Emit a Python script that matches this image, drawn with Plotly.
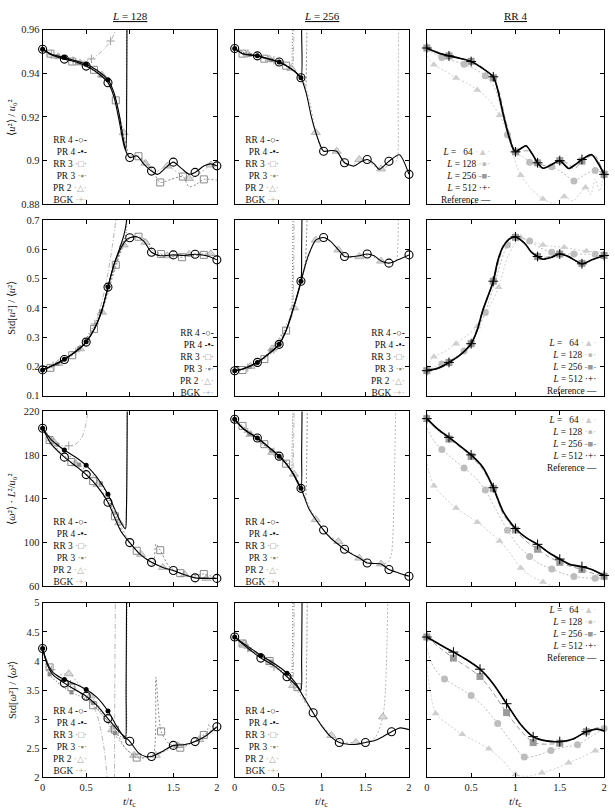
import plotly.graph_objects as go

# ======================= DATA =======================
# Row 1: <u^2>/u0^2 ; column L=128
U2_128_RR4_T = [0, 0.1, 0.25, 0.4, 0.5, 0.62, 0.75, 0.82, 0.88, 0.94, 1.0, 1.08, 1.17, 1.25, 1.32, 1.42, 1.5, 1.6, 1.68, 1.75, 1.85, 1.93, 2.0]
U2_128_RR4_V = [0.951, 0.9485, 0.9465, 0.945, 0.9433, 0.9405, 0.9357, 0.929, 0.918, 0.906, 0.9014, 0.9022, 0.898, 0.8952, 0.8937, 0.897, 0.8993, 0.8962, 0.8938, 0.8946, 0.8975, 0.8985, 0.8976]
U2_128_RR4_M = [0, 0.25, 0.5, 0.75, 1.0, 1.25, 1.5, 1.75, 2.0]
U2_128_PR4_T = [0, 0.1, 0.25, 0.4, 0.5, 0.62, 0.75, 0.82, 0.88, 0.93, 0.955, 0.965, 0.972]
U2_128_PR4_V = [0.951, 0.9487, 0.9472, 0.9455, 0.9442, 0.9415, 0.937, 0.931, 0.921, 0.909, 0.905, 0.93, 1.0]
U2_128_PR4_M = [0, 0.25, 0.5, 0.75]
U2_128_RR3_T = [0, 0.09, 0.2, 0.34, 0.47, 0.59, 0.7, 0.77, 0.84, 0.92, 1.0, 1.1, 1.2, 1.28, 1.35, 1.48, 1.61, 1.68, 1.76, 1.85, 2.0]
U2_128_RR3_V = [0.951, 0.949, 0.9475, 0.9454, 0.9437, 0.9416, 0.9383, 0.9345, 0.9276, 0.9135, 0.9018, 0.902, 0.8985, 0.894, 0.890, 0.8915, 0.8927, 0.888, 0.889, 0.8914, 0.891]
U2_128_RR3_M = [0.09, 0.34, 0.59, 0.84, 1.1, 1.35, 1.61, 1.85]
U2_128_PR3_T = [0, 0.17, 0.42, 0.67, 0.75, 0.84, 0.92, 0.955, 0.962, 0.968]
U2_128_PR3_V = [0.951, 0.9478, 0.9448, 0.939, 0.9362, 0.927, 0.912, 0.906, 0.93, 1.0]
U2_128_PR3_M = [0.17, 0.42, 0.67]
U2_128_PR2_T = [0, 0.18, 0.43, 0.68, 0.78, 0.86, 0.93, 1.0, 1.08, 1.18, 1.3, 1.43, 1.55, 1.68, 1.8, 1.93, 2.0]
U2_128_PR2_V = [0.951, 0.9476, 0.9447, 0.9392, 0.934, 0.924, 0.9128, 0.9025, 0.902, 0.8988, 0.895, 0.8975, 0.8945, 0.8918, 0.894, 0.898, 0.8975]
U2_128_PR2_M = [0.18, 0.43, 0.68, 0.93, 1.18, 1.43, 1.68, 1.93]
U2_128_BGK_T = [0, 0.1, 0.22, 0.35, 0.47, 0.56, 0.64, 0.72, 0.78, 0.82, 0.84, 0.86]
U2_128_BGK_V = [0.951, 0.9485, 0.9468, 0.9458, 0.9456, 0.9466, 0.9487, 0.9518, 0.9548, 0.958, 0.962, 0.97]
U2_128_BGK_M = [0.1, 0.35, 0.56, 0.78]

# Row 1 ; column L=256
U2_256_RR4_T = [0, 0.09, 0.26, 0.4, 0.51, 0.62, 0.7, 0.76, 0.82, 0.88, 0.93, 1.02, 1.1, 1.17, 1.26, 1.37, 1.45, 1.52, 1.6, 1.66, 1.77, 1.89, 2.0]
U2_256_RR4_V = [0.9514, 0.949, 0.948, 0.9465, 0.9452, 0.9428, 0.9405, 0.938, 0.931, 0.92, 0.9129, 0.9043, 0.9046, 0.9043, 0.899, 0.8975, 0.8995, 0.9005, 0.8985, 0.896, 0.8997, 0.9027, 0.8937]
U2_256_RR4_M = [0, 0.26, 0.51, 0.76, 1.02, 1.26, 1.52, 1.77, 2.0]
U2_256_PR4_T = [0, 0.09, 0.26, 0.4, 0.51, 0.62, 0.7, 0.76, 0.768, 0.775]
U2_256_PR4_V = [0.9514, 0.949, 0.948, 0.9465, 0.9452, 0.9428, 0.9405, 0.938, 0.96, 1.0]
U2_256_PR4_M = [0, 0.26, 0.51, 0.76]
U2_256_RR3_T = [0, 0.09, 0.2, 0.34, 0.47, 0.59, 0.7, 0.77, 0.81, 0.825, 0.835]
U2_256_RR3_V = [0.9514, 0.949, 0.9482, 0.9467, 0.9455, 0.9435, 0.9405, 0.937, 0.933, 0.95, 1.0]
U2_256_RR3_M = [0.09, 0.34, 0.59]
U2_256_PR3_T = [0, 0.17, 0.42, 0.6, 0.65, 0.66, 0.67]
U2_256_PR3_V = [0.9514, 0.9485, 0.946, 0.9432, 0.942, 0.95, 1.0]
U2_256_PR3_M = [0.17, 0.42]
U2_256_PR2_T = [0, 0.15, 0.4, 0.65, 0.78, 0.86, 0.93, 1.0, 1.08, 1.17, 1.26, 1.35, 1.43, 1.52, 1.6, 1.68, 1.76, 1.82, 1.86, 1.875, 1.885]
U2_256_PR2_V = [0.9514, 0.9488, 0.9465, 0.9422, 0.937, 0.927, 0.9129, 0.905, 0.9045, 0.9043, 0.8995, 0.8978, 0.9005, 0.9, 0.8975, 0.8962, 0.8975, 0.899, 0.90, 0.93, 1.0]
U2_256_PR2_M = [0.15, 0.4, 0.65, 0.93, 1.17, 1.43, 1.68]
U2_256_BGK_T = [0, 0.15, 0.3, 0.45, 0.6, 0.66, 0.675, 0.685]
U2_256_BGK_V = [0.9514, 0.949, 0.9475, 0.946, 0.9438, 0.9418, 0.95, 1.0]
U2_256_BGK_M = [0.15, 0.45]

# Row 1 ; column RR 4
U2_RR4_REF_T = [0, 0.12, 0.25, 0.38, 0.5, 0.62, 0.75, 0.8, 0.86, 0.92, 0.97, 1.0, 1.06, 1.12, 1.19, 1.25, 1.31, 1.4, 1.5, 1.6, 1.67, 1.75, 1.86, 1.93, 2.0]
U2_RR4_REF_V = [0.9516, 0.9495, 0.948, 0.9468, 0.9454, 0.9425, 0.9384, 0.9325, 0.9216, 0.912, 0.9058, 0.904, 0.9055, 0.9068, 0.903, 0.899, 0.8965, 0.898, 0.9, 0.8964, 0.898, 0.9005, 0.9027, 0.899, 0.8937]
U2_RR4_L512_T = [0, 0.12, 0.25, 0.38, 0.5, 0.62, 0.75, 0.8, 0.86, 0.92, 0.97, 1.0, 1.06, 1.12, 1.19, 1.25, 1.31, 1.4, 1.5, 1.6, 1.67, 1.75, 1.86, 1.93, 2.0]
U2_RR4_L512_V = [0.9516, 0.9495, 0.948, 0.9468, 0.9454, 0.9425, 0.9384, 0.9325, 0.9216, 0.912, 0.9058, 0.904, 0.9055, 0.9068, 0.903, 0.899, 0.8965, 0.898, 0.9, 0.8964, 0.898, 0.9005, 0.9027, 0.899, 0.8937]
U2_RR4_L512_M = [0, 0.25, 0.5, 0.75, 1.0, 1.25, 1.5, 1.75, 2.0]
U2_RR4_L256_T = [0, 0.25, 0.5, 0.62, 0.75, 0.82, 0.88, 0.94, 1.0, 1.1, 1.17, 1.25, 1.37, 1.5, 1.6, 1.66, 1.75, 1.89, 2.0]
U2_RR4_L256_V = [0.9516, 0.948, 0.9455, 0.943, 0.938, 0.931, 0.92, 0.911, 0.904, 0.9045, 0.9042, 0.899, 0.8975, 0.9, 0.8985, 0.896, 0.8998, 0.9025, 0.8937]
U2_RR4_L256_M = [0, 0.25, 0.5, 0.75, 1.0, 1.25, 1.5, 1.75, 2.0]
U2_RR4_L128_T = [0, 0.17, 0.42, 0.66, 0.78, 0.91, 1.0, 1.08, 1.16, 1.3, 1.41, 1.55, 1.66, 1.78, 1.9, 2.0]
U2_RR4_L128_V = [0.951, 0.9472, 0.9442, 0.9389, 0.932, 0.9118, 0.9035, 0.902, 0.8993, 0.8965, 0.8972, 0.894, 0.8907, 0.8935, 0.8955, 0.894]
U2_RR4_L128_M = [0.17, 0.42, 0.66, 0.91, 1.16, 1.41, 1.66, 1.9]
U2_RR4_L64_T = [0, 0.08, 0.2, 0.33, 0.45, 0.57, 0.7, 0.82, 0.9, 0.98, 1.06, 1.18, 1.31, 1.43, 1.55, 1.65, 1.72, 1.79, 1.85, 1.9, 1.95, 2.0]
U2_RR4_L64_V = [0.948, 0.9439, 0.9412, 0.9379, 0.9355, 0.9324, 0.928, 0.9208, 0.914, 0.902, 0.8933, 0.887, 0.8824, 0.8805, 0.8835, 0.8815, 0.8845, 0.8877, 0.8845, 0.8915, 0.886, 0.894]
U2_RR4_L64_M = [0.08, 0.33, 0.57, 0.82, 1.06, 1.31, 1.55, 1.79]

# Row 2: Std[u^2]/<u^2> ; column L=128
SU_128_RR4_T = [0, 0.1, 0.25, 0.4, 0.5, 0.6, 0.68, 0.75, 0.82, 0.9, 0.96, 1.0, 1.08, 1.16, 1.25, 1.35, 1.5, 1.62, 1.75, 1.88, 2.0]
SU_128_RR4_V = [0.188, 0.2, 0.2237, 0.255, 0.283, 0.33, 0.39, 0.4708, 0.548, 0.605, 0.632, 0.6393, 0.643, 0.628, 0.59, 0.578, 0.581, 0.579, 0.583, 0.578, 0.564]
SU_128_RR4_M = [0, 0.25, 0.5, 0.75, 1.0, 1.25, 1.5, 1.75, 2.0]
SU_128_PR4_T = [0, 0.1, 0.25, 0.4, 0.5, 0.6, 0.68, 0.75, 0.82, 0.88, 0.93, 0.96, 0.975]
SU_128_PR4_V = [0.188, 0.201, 0.2245, 0.256, 0.284, 0.332, 0.392, 0.472, 0.55, 0.6, 0.645, 0.69, 0.8]
SU_128_PR4_M = [0, 0.25, 0.5, 0.75]
SU_128_RR3_T = [0, 0.09, 0.2, 0.34, 0.47, 0.59, 0.7, 0.84, 0.95, 1.02, 1.1, 1.2, 1.28, 1.36, 1.48, 1.6, 1.72, 1.85, 2.0]
SU_128_RR3_V = [0.188, 0.195, 0.21, 0.238, 0.272, 0.328, 0.41, 0.547, 0.625, 0.64, 0.643, 0.628, 0.595, 0.584, 0.576, 0.573, 0.578, 0.581, 0.578]
SU_128_RR3_M = [0.09, 0.34, 0.59, 0.84, 1.1, 1.36, 1.6, 1.85]
SU_128_PR3_T = [0, 0.17, 0.42, 0.67, 0.78, 0.86, 0.93, 0.96, 0.975]
SU_128_PR3_V = [0.188, 0.208, 0.262, 0.388, 0.495, 0.57, 0.625, 0.66, 0.8]
SU_128_PR3_M = [0.17, 0.42, 0.67]
SU_128_PR2_T = [0, 0.18, 0.43, 0.68, 0.8, 0.93, 1.0, 1.08, 1.18, 1.3, 1.43, 1.55, 1.68, 1.8, 1.93, 2.0]
SU_128_PR2_V = [0.188, 0.21, 0.26, 0.385, 0.5, 0.615, 0.638, 0.64, 0.624, 0.585, 0.578, 0.579, 0.583, 0.584, 0.585, 0.578]
SU_128_PR2_M = [0.18, 0.43, 0.68, 0.93, 1.18, 1.43, 1.68, 1.93]
SU_128_BGK_T = [0, 0.12, 0.25, 0.38, 0.5, 0.6, 0.68, 0.75, 0.8, 0.84, 0.86]
SU_128_BGK_V = [0.188, 0.203, 0.225, 0.25, 0.29, 0.345, 0.42, 0.52, 0.61, 0.7, 0.8]
SU_128_BGK_M = [0.12, 0.38, 0.6]

# Row 2 ; column L=256
SU_256_RR4_T = [0, 0.1, 0.26, 0.4, 0.51, 0.59, 0.67, 0.76, 0.84, 0.93, 1.02, 1.1, 1.19, 1.26, 1.32, 1.43, 1.52, 1.6, 1.68, 1.77, 1.88, 2.0]
SU_256_RR4_V = [0.1853, 0.192, 0.2135, 0.245, 0.2753, 0.3225, 0.3957, 0.491, 0.575, 0.6315, 0.6404, 0.627, 0.598, 0.5753, 0.574, 0.578, 0.584, 0.578, 0.5597, 0.5527, 0.565, 0.581]
SU_256_RR4_M = [0, 0.26, 0.51, 0.76, 1.02, 1.26, 1.52, 1.77, 2.0]
SU_256_PR4_T = [0, 0.1, 0.26, 0.4, 0.51, 0.59, 0.67, 0.76, 0.768, 0.775]
SU_256_PR4_V = [0.1853, 0.192, 0.2135, 0.245, 0.2753, 0.3225, 0.3957, 0.491, 0.6, 0.8]
SU_256_PR4_M = [0, 0.26, 0.51, 0.76]
SU_256_RR3_T = [0, 0.09, 0.2, 0.34, 0.47, 0.59, 0.7, 0.77, 0.81, 0.825, 0.835]
SU_256_RR3_V = [0.1853, 0.1876, 0.2, 0.225, 0.26, 0.3225, 0.42, 0.5, 0.555, 0.65, 0.8]
SU_256_RR3_M = [0.09, 0.34, 0.59]
SU_256_PR3_T = [0, 0.17, 0.42, 0.6, 0.65, 0.66, 0.67]
SU_256_PR3_V = [0.1853, 0.198, 0.255, 0.335, 0.37, 0.45, 0.8]
SU_256_PR3_M = [0.17, 0.42]
SU_256_PR2_T = [0, 0.18, 0.43, 0.68, 0.8, 0.93, 1.02, 1.1, 1.19, 1.3, 1.43, 1.55, 1.68, 1.78, 1.85, 1.87, 1.88]
SU_256_PR2_V = [0.1853, 0.2, 0.26, 0.4, 0.53, 0.6315, 0.64, 0.627, 0.598, 0.575, 0.575, 0.58, 0.5597, 0.555, 0.56, 0.6, 0.8]
SU_256_PR2_M = [0.18, 0.43, 0.68, 0.93, 1.19, 1.43, 1.68]
SU_256_BGK_T = [0, 0.15, 0.3, 0.45, 0.6, 0.66, 0.675, 0.685]
SU_256_BGK_V = [0.1853, 0.196, 0.22, 0.258, 0.33, 0.375, 0.5, 0.8]
SU_256_BGK_M = [0.15, 0.45]

# Row 2 ; column RR 4
SU_RR4_REF_T = [0, 0.12, 0.25, 0.38, 0.5, 0.57, 0.63, 0.69, 0.75, 0.8, 0.86, 0.93, 1.0, 1.06, 1.12, 1.18, 1.25, 1.31, 1.4, 1.5, 1.6, 1.75, 1.87, 2.0]
SU_RR4_REF_V = [0.1853, 0.193, 0.2135, 0.24, 0.2775, 0.325, 0.39, 0.44, 0.491, 0.56, 0.609, 0.635, 0.6427, 0.632, 0.6146, 0.59, 0.5753, 0.566, 0.572, 0.584, 0.575, 0.5506, 0.565, 0.5787]
SU_RR4_L512_T = [0, 0.12, 0.25, 0.38, 0.5, 0.57, 0.63, 0.69, 0.75, 0.8, 0.86, 0.93, 1.0, 1.06, 1.12, 1.18, 1.25, 1.31, 1.4, 1.5, 1.6, 1.75, 1.87, 2.0]
SU_RR4_L512_V = [0.1853, 0.193, 0.2135, 0.24, 0.2775, 0.325, 0.39, 0.44, 0.491, 0.56, 0.609, 0.635, 0.6427, 0.632, 0.6146, 0.59, 0.5753, 0.566, 0.572, 0.584, 0.575, 0.5506, 0.565, 0.5787]
SU_RR4_L512_M = [0, 0.25, 0.5, 0.75, 1.0, 1.25, 1.5, 1.75, 2.0]
SU_RR4_L256_T = [0, 0.12, 0.25, 0.38, 0.5, 0.63, 0.75, 0.86, 0.93, 1.0, 1.12, 1.25, 1.31, 1.4, 1.5, 1.6, 1.75, 1.87, 2.0]
SU_RR4_L256_V = [0.1853, 0.193, 0.2135, 0.24, 0.2775, 0.39, 0.491, 0.605, 0.633, 0.641, 0.613, 0.5753, 0.572, 0.576, 0.584, 0.575, 0.552, 0.565, 0.579]
SU_RR4_L256_M = [0, 0.25, 0.5, 0.75, 1.0, 1.25, 1.5, 1.75, 2.0]
SU_RR4_L128_T = [0, 0.17, 0.3, 0.42, 0.55, 0.66, 0.78, 0.91, 1.03, 1.16, 1.28, 1.41, 1.53, 1.66, 1.78, 1.9, 2.0]
SU_RR4_L128_V = [0.188, 0.208, 0.228, 0.2528, 0.31, 0.384, 0.5, 0.6146, 0.64, 0.628, 0.605, 0.59, 0.584, 0.584, 0.583, 0.583, 0.575]
SU_RR4_L128_M = [0.17, 0.42, 0.66, 0.91, 1.16, 1.41, 1.66, 1.9]
SU_RR4_L64_T = [0, 0.08, 0.2, 0.33, 0.45, 0.57, 0.7, 0.81, 0.92, 1.06, 1.18, 1.31, 1.43, 1.55, 1.67, 1.8, 1.9, 2.0]
SU_RR4_L64_V = [0.2, 0.2325, 0.25, 0.2775, 0.305, 0.336, 0.4, 0.47, 0.58, 0.64, 0.627, 0.6146, 0.61, 0.6067, 0.6, 0.5944, 0.592, 0.59]
SU_RR4_L64_M = [0.08, 0.33, 0.57, 0.81, 1.06, 1.31, 1.55, 1.8]

# Row 3: <w^2> L^2/u0^2 ; column L=128
W2_128_RR4_T = [0, 0.1, 0.25, 0.38, 0.5, 0.62, 0.75, 0.83, 0.9, 1.0, 1.12, 1.25, 1.38, 1.5, 1.62, 1.75, 1.88, 2.0]
W2_128_RR4_V = [204.6, 190, 178.1, 170, 162.1, 152, 136.8, 122, 110, 99.8, 89, 81.7, 77, 74.2, 70.5, 67.5, 67, 67]
W2_128_RR4_M = [0, 0.25, 0.5, 0.75, 1.0, 1.25, 1.5, 1.75, 2.0]
W2_128_PR4_T = [0, 0.1, 0.25, 0.38, 0.5, 0.62, 0.75, 0.83, 0.9, 0.95, 0.962, 0.972]
W2_128_PR4_V = [204.6, 194, 184.7, 178, 170.6, 160, 144.1, 130, 118, 112.4, 130, 240]
W2_128_PR4_M = [0, 0.25, 0.5, 0.75]
W2_128_RR3_T = [0, 0.08, 0.2, 0.33, 0.45, 0.58, 0.7, 0.83, 0.95, 1.08, 1.2, 1.27, 1.3, 1.35, 1.45, 1.58, 1.72, 1.85, 2.0]
W2_128_RR3_V = [204.6, 193.8, 183, 173.6, 165, 156.1, 143, 123.9, 104, 92.3, 84, 80, 98.5, 92.8, 78, 71.8, 69, 71, 67]
W2_128_RR3_M = [0.08, 0.33, 0.58, 0.83, 1.08, 1.35, 1.58, 1.85]
W2_128_PR3_T = [0, 0.17, 0.42, 0.67, 0.8, 0.9, 0.95, 0.962, 0.972]
W2_128_PR3_V = [204.6, 189.5, 171.2, 154, 132, 117, 113, 130, 240]
W2_128_PR3_M = [0.17, 0.42, 0.67]
W2_128_PR2_T = [0, 0.13, 0.38, 0.63, 0.75, 0.88, 1.0, 1.13, 1.25, 1.38, 1.5, 1.63, 1.75, 1.88, 2.0]
W2_128_PR2_V = [204.6, 192, 172, 153, 138, 118, 100, 89, 82, 77, 74, 70.5, 68, 67, 66.5]
W2_128_PR2_M = [0.13, 0.38, 0.63, 0.88, 1.13, 1.38, 1.63, 1.88]
W2_128_BGK_T = [0, 0.1, 0.2, 0.3, 0.38, 0.45, 0.49, 0.52, 0.54]
W2_128_BGK_V = [204.6, 193, 189, 188.5, 190, 196, 206, 220, 240]
W2_128_BGK_M = [0.1, 0.3]

# Row 3 ; column L=256
W2_256_RR4_T = [0, 0.1, 0.26, 0.38, 0.51, 0.59, 0.67, 0.76, 0.85, 0.93, 1.02, 1.1, 1.19, 1.26, 1.35, 1.43, 1.52, 1.6, 1.68, 1.77, 1.88, 2.0]
W2_256_RR4_V = [212.8, 204, 195.6, 188, 179, 172.1, 163, 149.5, 131, 120.9, 111.3, 104, 98, 93.7, 89, 85.6, 81.1, 80.7, 80.2, 75.1, 72, 69]
W2_256_RR4_M = [0, 0.26, 0.51, 0.76, 1.02, 1.26, 1.52, 1.77, 2.0]
W2_256_PR4_T = [0, 0.1, 0.26, 0.38, 0.51, 0.59, 0.67, 0.76, 0.768, 0.775]
W2_256_PR4_V = [212.8, 204, 195.6, 188, 179, 172.1, 163, 149.5, 180, 240]
W2_256_PR4_M = [0, 0.26, 0.51, 0.76]
W2_256_RR3_T = [0, 0.09, 0.2, 0.34, 0.47, 0.59, 0.7, 0.77, 0.81, 0.825, 0.835]
W2_256_RR3_V = [212.8, 206.7, 199, 190, 181, 172.1, 160, 148, 140, 170, 240]
W2_256_RR3_M = [0.09, 0.34, 0.59]
W2_256_PR3_T = [0, 0.17, 0.42, 0.6, 0.65, 0.66, 0.67]
W2_256_PR3_V = [212.8, 199.5, 184, 173.5, 166.5, 190, 240]
W2_256_PR3_M = [0.17, 0.42]
W2_256_PR2_T = [0, 0.18, 0.43, 0.68, 0.8, 0.93, 1.05, 1.19, 1.3, 1.43, 1.55, 1.68, 1.76, 1.8, 1.83, 1.85]
W2_256_PR2_V = [212.8, 199, 182.5, 162.5, 143, 120.9, 108, 100.7, 93, 85.6, 81.5, 80.2, 82, 90, 150, 240]
W2_256_PR2_M = [0.18, 0.43, 0.68, 0.93, 1.19, 1.43, 1.68]
W2_256_BGK_T = [0, 0.15, 0.3, 0.45, 0.6, 0.66, 0.675, 0.685]
W2_256_BGK_V = [212.8, 201, 192, 183, 171.5, 166, 190, 240]
W2_256_BGK_M = [0.15, 0.45]

# Row 3 ; column RR 4
W2_RR4_REF_T = [0, 0.12, 0.25, 0.38, 0.5, 0.63, 0.75, 0.86, 1.0, 1.12, 1.25, 1.37, 1.5, 1.62, 1.75, 1.86, 2.0]
W2_RR4_REF_V = [213.4, 204, 196.2, 188, 180.2, 169.1, 150.1, 128.4, 112.7, 104.3, 98.2, 91, 84.7, 79.6, 77.8, 75.1, 69.7]
W2_RR4_L512_T = [0, 0.12, 0.25, 0.38, 0.5, 0.63, 0.75, 0.86, 1.0, 1.12, 1.25, 1.37, 1.5, 1.62, 1.75, 1.86, 2.0]
W2_RR4_L512_V = [213.4, 204, 196.2, 188, 180.2, 169.1, 150.1, 128.4, 112.7, 104.3, 98.2, 91, 84.7, 79.6, 77.8, 75.1, 69.7]
W2_RR4_L512_M = [0, 0.25, 0.5, 0.75, 1.0, 1.25, 1.5, 1.75, 2.0]
W2_RR4_L256_T = [0, 0.12, 0.25, 0.38, 0.5, 0.63, 0.75, 0.86, 1.0, 1.12, 1.25, 1.37, 1.5, 1.62, 1.75, 1.86, 2.0]
W2_RR4_L256_V = [213.4, 203, 194.7, 187, 178.8, 167, 149.5, 126, 111.3, 101, 93.7, 87, 81.7, 78, 75.1, 72, 69.0]
W2_RR4_L256_M = [0, 0.25, 0.5, 0.75, 1.0, 1.25, 1.5, 1.75, 2.0]
W2_RR4_L128_T = [0, 0.08, 0.17, 0.3, 0.42, 0.55, 0.66, 0.78, 0.91, 1.03, 1.16, 1.28, 1.41, 1.53, 1.66, 1.78, 1.9, 2.0]
W2_RR4_L128_V = [205, 193, 185, 176, 168.2, 159, 147.9, 130, 111.2, 97, 87.1, 80, 75.6, 71.5, 68.8, 67.5, 67.2, 67]
W2_RR4_L128_M = [0.17, 0.42, 0.66, 0.91, 1.16, 1.41, 1.66, 1.9]
W2_RR4_L64_T = [0, 0.08, 0.2, 0.33, 0.45, 0.57, 0.7, 0.82, 0.94, 1.06, 1.18, 1.31, 1.4, 1.5, 1.7, 2.0]
W2_RR4_L64_V = [172, 151.9, 141, 131.4, 125, 118.5, 110, 101.3, 90, 76.5, 69, 63.6, 60.5, 57, 54, 50]
W2_RR4_L64_M = [0.08, 0.33, 0.57, 0.82, 1.06, 1.31]

# Row 4: Std[w^2]/<w^2> ; column L=128
SW_128_RR4_T = [0, 0.05, 0.12, 0.25, 0.38, 0.5, 0.62, 0.75, 0.87, 1.0, 1.1, 1.18, 1.25, 1.38, 1.5, 1.62, 1.75, 1.88, 2.0]
SW_128_RR4_V = [4.215, 3.95, 3.76, 3.62, 3.5, 3.395, 3.24, 3.01, 2.8, 2.62, 2.42, 2.36, 2.36, 2.45, 2.55, 2.56, 2.615, 2.72, 2.87]
SW_128_RR4_M = [0, 0.25, 0.5, 0.75, 1.0, 1.25, 1.5, 1.75, 2.0]
SW_128_PR4_T = [0, 0.05, 0.12, 0.25, 0.38, 0.5, 0.62, 0.75, 0.85, 0.92, 0.95, 0.958, 0.965]
SW_128_PR4_V = [4.215, 3.98, 3.8, 3.68, 3.6, 3.51, 3.38, 3.14, 2.88, 2.72, 2.66, 3.5, 5.5]
SW_128_PR4_M = [0, 0.25, 0.5, 0.75]
SW_128_RR3_T = [0, 0.08, 0.2, 0.33, 0.45, 0.58, 0.7, 0.83, 0.95, 1.08, 1.18, 1.27, 1.3, 1.36, 1.45, 1.58, 1.72, 1.85, 2.0]
SW_128_RR3_V = [4.215, 3.89, 3.7, 3.55, 3.42, 3.24, 3.05, 2.82, 2.5, 2.34, 2.34, 2.4, 3.72, 2.79, 2.58, 2.51, 2.6, 2.73, 2.85]
SW_128_RR3_M = [0.08, 0.33, 0.58, 0.83, 1.08, 1.36, 1.58, 1.85]
SW_128_PR3_T = [0, 0.08, 0.2, 0.33, 0.45, 0.58, 0.7, 0.83, 0.9, 0.95, 0.96, 0.97]
SW_128_PR3_V = [4.215, 3.77, 3.6, 3.46, 3.38, 3.28, 3.05, 2.76, 2.7, 2.66, 3.5, 5.5]
SW_128_PR3_M = [0.08, 0.33, 0.58, 0.83]
SW_128_PR2_T = [0, 0.05, 0.13, 0.3, 0.45, 0.55, 0.68, 0.8, 0.92, 1.05, 1.15, 1.3, 1.42, 1.55, 1.68, 1.8, 1.88, 1.91, 1.95, 2.0]
SW_128_PR2_V = [4.215, 3.95, 3.75, 3.78, 3.55, 3.4, 3.15, 2.82, 2.55, 2.38, 2.35, 2.38, 2.46, 2.55, 2.58, 2.65, 2.75, 2.92, 2.75, 2.85]
SW_128_PR2_M = [0.3, 0.55, 0.8, 1.05, 1.3, 1.55, 1.8]
SW_128_BGK_T = [0, 0.1, 0.2, 0.32, 0.45, 0.55, 0.62, 0.67, 0.71, 0.74, 0.77, 0.8, 0.82, 0.83, 0.84]
SW_128_BGK_V = [4.215, 3.85, 3.72, 3.6, 3.45, 3.3, 3.1, 2.8, 2.45, 2.0, 1.0, 1.0, 1.5, 4.0, 6.0]
SW_128_BGK_M = [0.1, 0.32]

# Row 4 ; column L=256
SW_256_RR4_T = [0, 0.1, 0.2, 0.3, 0.45, 0.6, 0.72, 0.8, 0.9, 1.0, 1.1, 1.2, 1.3, 1.4, 1.5, 1.6, 1.7, 1.8, 1.9, 2.0]
SW_256_RR4_V = [4.412, 4.28, 4.16, 4.05, 3.92, 3.73, 3.55, 3.36, 3.11, 2.88, 2.7, 2.6, 2.57, 2.57, 2.6, 2.63, 2.7, 2.785, 2.85, 2.82]
SW_256_RR4_M = [0, 0.3, 0.6, 0.9, 1.2, 1.5, 1.8]
SW_256_PR4_T = [0, 0.1, 0.2, 0.3, 0.45, 0.6, 0.7, 0.76, 0.768, 0.775]
SW_256_PR4_V = [4.412, 4.3, 4.2, 4.096, 3.96, 3.79, 3.62, 3.5, 4.0, 5.5]
SW_256_PR4_M = [0, 0.3, 0.6]
SW_256_RR3_T = [0, 0.09, 0.25, 0.4, 0.55, 0.72, 0.78, 0.81, 0.825, 0.835]
SW_256_RR3_V = [4.412, 4.3, 4.13, 4.0, 3.85, 3.55, 3.4, 3.3, 4.0, 5.5]
SW_256_RR3_M = [0.09, 0.4, 0.72]
SW_256_PR3_T = [0, 0.17, 0.42, 0.6, 0.65, 0.66, 0.67]
SW_256_PR3_V = [4.412, 4.2, 3.98, 3.73, 3.62, 4.0, 5.5]
SW_256_PR3_M = [0.17, 0.42]
SW_256_PR2_T = [0, 0.11, 0.25, 0.41, 0.55, 0.67, 0.85, 1.0, 1.11, 1.25, 1.39, 1.55, 1.62, 1.7, 1.73, 1.75, 1.76]
SW_256_PR2_V = [4.412, 4.3, 4.12, 3.97, 3.8, 3.58, 3.2, 2.9, 2.72, 2.6, 2.6, 2.62, 2.7, 3.04, 3.5, 4.5, 5.5]
SW_256_PR2_M = [0.11, 0.41, 0.67, 1.11, 1.39, 1.7]
SW_256_BGK_T = [0, 0.15, 0.3, 0.45, 0.6, 0.66, 0.675, 0.685]
SW_256_BGK_V = [4.412, 4.22, 4.06, 3.9, 3.72, 3.62, 4.0, 5.5]
SW_256_BGK_M = [0.15, 0.45]

# Row 4 ; column RR 4
SW_RR4_REF_T = [0, 0.15, 0.3, 0.45, 0.6, 0.75, 0.9, 1.05, 1.2, 1.35, 1.5, 1.65, 1.8, 1.92, 2.0]
SW_RR4_REF_V = [4.412, 4.28, 4.153, 4.02, 3.859, 3.605, 3.266, 2.927, 2.70, 2.627, 2.615, 2.66, 2.785, 2.83, 2.80]
SW_RR4_L512_T = [0, 0.15, 0.3, 0.45, 0.6, 0.75, 0.9, 1.05, 1.2, 1.35, 1.5, 1.65, 1.8, 1.92, 2.0]
SW_RR4_L512_V = [4.412, 4.28, 4.153, 4.02, 3.859, 3.605, 3.266, 2.927, 2.70, 2.627, 2.615, 2.66, 2.785, 2.83, 2.80]
SW_RR4_L512_M = [0, 0.3, 0.6, 0.9, 1.2, 1.5, 1.8]
SW_RR4_L256_T = [0, 0.15, 0.3, 0.45, 0.6, 0.75, 0.9, 1.05, 1.2, 1.35, 1.5, 1.65, 1.8, 1.92, 2.0]
SW_RR4_L256_V = [4.412, 4.22, 4.05, 3.9, 3.734, 3.45, 3.113, 2.82, 2.598, 2.57, 2.588, 2.65, 2.785, 2.85, 2.84]
SW_RR4_L256_M = [0, 0.3, 0.6, 0.9, 1.2, 1.5, 1.8]
SW_RR4_L128_T = [0, 0.05, 0.1, 0.2, 0.35, 0.5, 0.65, 0.8, 0.95, 1.1, 1.25, 1.4, 1.55, 1.7, 1.85, 2.0]
SW_RR4_L128_V = [4.215, 3.98, 3.84, 3.69, 3.55, 3.407, 3.2, 2.927, 2.62, 2.35, 2.38, 2.463, 2.52, 2.56, 2.7, 2.84]
SW_RR4_L128_M = [0.2, 0.5, 0.8, 1.1, 1.4, 1.7, 2.0]
SW_RR4_L64_T = [0, 0.1, 0.25, 0.4, 0.55, 0.7, 0.85, 1.0, 1.15, 1.3, 1.45, 1.6, 1.75, 1.9, 2.0]
SW_RR4_L64_V = [3.9, 3.097, 2.9, 2.741, 2.62, 2.49, 2.3, 2.05, 2.02, 2.08, 2.15, 2.25, 2.35, 2.458, 2.49]
SW_RR4_L64_M = [0.1, 0.4, 0.7, 1.0, 1.3, 1.6, 1.9]

# Axis ticks and texts
X_TICKS = [0, 0.5, 1, 1.5, 2]
X_TICKTEXT = ["0", "0.5", "1", "1.5", "2"]
Y_RANGES = [(0.88, 0.96), (0.1, 0.7), (60, 220), (2, 5)]
Y_TICKS = [[0.88, 0.9, 0.92, 0.94, 0.96],
           [0.1, 0.2, 0.3, 0.4, 0.5, 0.6, 0.7],
           [60, 100, 140, 180, 220],
           [2, 2.5, 3, 3.5, 4, 4.5, 5]]
Y_TICKTEXT = [["0.88", "0.9", "0.92", "0.94", "0.96"],
              ["0.1", "0.2", "0.3", "0.4", "0.5", "0.6", "0.7"],
              ["60", "100", "140", "180", "220"],
              ["2", "2.5", "3", "3.5", "4", "4.5", "5"]]
LEG_LABELS_A = ["RR 4", "PR 4", "RR 3", "PR 3", "PR 2", "BGK"]
LEG_LABELS_B = ["<i>L</i> = \u200764", "<i>L</i> = 128", "<i>L</i> = 256", "<i>L</i> = 512", "Reference"]
COL_TITLES = ["<u><i>L</i> = 128</u>", "<u><i>L</i> = 256</u>", "<u>RR 4</u>"]
ROW_TITLES = ["\u27e8<i>u</i>\u00b2\u27e9 / <i>u</i>\u2080\u00b2",
              "Std[<i>u</i>\u00b2] / \u27e8<i>u</i>\u00b2\u27e9",
              "\u27e8<i>\u03c9</i>\u00b2\u27e9 \u00b7 <i>L</i>\u00b2/<i>u</i>\u2080\u00b2",
              "Std[<i>\u03c9</i>\u00b2] / \u27e8<i>\u03c9</i>\u00b2\u27e9"]
X_TITLE = "<i>t</i>/<i>t</i><sub>c</sub>"

# ======================= LAYOUT / STYLE =======================
W, H = 615, 812
COLS_PX = [(40, 216), (234, 410), (428, 607)]
ROWS_PX = [(25, 202), (218, 396), (412, 589), (606, 783)]
QTY = ["U2", "SU", "W2", "SW"]
COLKEY = ["128", "256", "RR4"]
FAM_A = ["BGK", "PR2", "PR3", "RR3", "PR4", "RR4"]
FAM_B = ["L64", "L128", "L256", "REF", "L512"]
FONT = "Liberation Serif"

STYLE = {
    "RR4": dict(lc="#000", dash="solid", lw=1.1, sym="circle-open", ms=8, mc="#000", mlc="#000", mlw=1.1),
    "PR4": dict(lc="#000", dash="solid", lw=1.1, sym="circle", ms=5, mc="#000", mlc="#000", mlw=0),
    "RR3": dict(lc="#8a8a8a", dash="2px,2px", lw=1, sym="square-open", ms=7, mc="#8a8a8a", mlc="#8a8a8a", mlw=1),
    "PR3": dict(lc="#7a7a7a", dash="1px,2px", lw=1.1, sym="square", ms=4, mc="#8a8a8a", mlc="#8a8a8a", mlw=0),
    "PR2": dict(lc="#b5b5b5", dash="2px,2px", lw=1, sym="triangle-up", ms=8, mc="#d8d8d8", mlc="#a8a8a8", mlw=0.8),
    "BGK": dict(lc="#b5b5b5", dash="5px,2px,1px,2px", lw=1, sym="cross-thin-open", ms=6, mc="#a0a0a0", mlc="#a0a0a0", mlw=1),
    "L64": dict(lc="#cfcfcf", dash="2px,2px", lw=1, sym="triangle-up", ms=7, mc="#cfcfcf", mlc="#cfcfcf", mlw=0),
    "L128": dict(lc="#bdbdbd", dash="2px,2px", lw=1, sym="circle", ms=7, mc="#bdbdbd", mlc="#bdbdbd", mlw=0),
    "L256": dict(lc="#9a9a9a", dash="5px,3px", lw=1, sym="square", ms=7, mc="#9a9a9a", mlc="#9a9a9a", mlw=0),
    "REF": dict(lc="#000", dash="solid", lw=1.7, sym=None),
    "L512": dict(lc="#000", dash="4px,2px,1px,2px", lw=0.8, sym="cross-thin-open", ms=7, mc="#000", mlc="#000", mlw=1),
}
LEG_SYM = {
    "RR4": ("-\u25cb-", "#000"), "PR4": ("-\u2022-", "#000"),
    "RR3": ("\u00b7\u25a1\u00b7", "#888"), "PR3": ("\u00b7\u25aa\u00b7", "#888"),
    "PR2": ("\u00b7\u25b3\u00b7", "#aaa"), "BGK": ("\u00b7+\u00b7", "#aaa"),
    "L64": ("\u00b7\u25b2\u00b7", "#ccc"), "L128": ("\u00b7\u25cf\u00b7", "#bbb"),
    "L256": ("-\u25a0-", "#999"), "L512": ("\u00b7+\u00b7", "#000"),
    "REF": ("\u2014", "#000"),
}
# legend placement per panel: (right edge px, top px)
LEG_POS = {
    (0, 0): (86, 131), (0, 1): (280, 131), (0, 2): (494, 143),
    (1, 0): (214, 326), (1, 1): (407, 326), (1, 2): (601, 337),
    (2, 0): (86, 518), (2, 1): (280, 518), (2, 2): (601, 415),
    (3, 0): (86, 710), (3, 1): (280, 710), (3, 2): (601, 607),
}

G = globals()
fig = go.Figure()
layout = dict(width=W, height=H, margin=dict(l=0, r=0, t=0, b=0),
              paper_bgcolor="white", plot_bgcolor="white", showlegend=False,
              font=dict(family=FONT, size=11, color="#111"))
annotations = []

for r in range(4):
    for c in range(3):
        k = r * 3 + c + 1
        xa = "x" if k == 1 else f"x{k}"
        ya = "y" if k == 1 else f"y{k}"
        fams = FAM_B if c == 2 else FAM_A
        for fam in fams:
            base = f"{QTY[r]}_{COLKEY[c]}_{fam}"
            T = G[base + "_T"]
            V = G[base + "_V"]
            M = G.get(base + "_M", [])
            s = STYLE[fam]
            fig.add_trace(go.Scatter(x=T, y=V, mode="lines", xaxis=xa, yaxis=ya,
                                     line=dict(color=s["lc"], dash=s["dash"], width=s["lw"],
                                               shape="spline", smoothing=0.7),
                                     hoverinfo="skip"))
            if M and s["sym"]:
                mx = [t for t in T if any(abs(t - m) < 1e-9 for m in M)]
                my = [v for t, v in zip(T, V) if any(abs(t - m) < 1e-9 for m in M)]
                fig.add_trace(go.Scatter(x=mx, y=my, mode="markers", xaxis=xa, yaxis=ya,
                                         cliponaxis=False,
                                         marker=dict(symbol=s["sym"], size=s["ms"], color=s["mc"],
                                                     line=dict(color=s["mlc"], width=s["mlw"])),
                                         hoverinfo="skip"))
        x0, x1 = COLS_PX[c]
        y0, y1 = ROWS_PX[r]
        axcommon = dict(showline=True, linecolor="#000", linewidth=1, mirror="ticks",
                        ticks="inside", ticklen=4, tickwidth=1, tickcolor="#000",
                        showgrid=False, zeroline=False,
                        tickfont=dict(family=FONT, size=10.5, color="#222"))
        layout["xaxis" if k == 1 else f"xaxis{k}"] = dict(
            domain=[x0 / W, x1 / W], range=[0, 2], anchor=ya,
            tickvals=X_TICKS, ticktext=X_TICKTEXT, showticklabels=(r == 3), **axcommon)
        layout["yaxis" if k == 1 else f"yaxis{k}"] = dict(
            domain=[1 - y1 / H, 1 - y0 / H], range=list(Y_RANGES[r]), anchor=xa,
            tickvals=Y_TICKS[r], ticktext=Y_TICKTEXT[r], showticklabels=(c == 0), **axcommon)
        # legend drawn as one right-aligned multi-line text block
        rx, ty = LEG_POS[(r, c)]
        labels = LEG_LABELS_B if c == 2 else LEG_LABELS_A
        keys = ["L64", "L128", "L256", "L512", "REF"] if c == 2 else ["RR4", "PR4", "RR3", "PR3", "PR2", "BGK"]
        lines = []
        for lab, key in zip(labels, keys):
            sym, col = LEG_SYM[key]
            lines.append(f"{lab} <span style='color:{col}'>{sym}</span>")
        annotations.append(dict(
            x=rx / W, y=1 - ty / H, xref="paper", yref="paper",
            xanchor="right", yanchor="top", align="right", showarrow=False, borderpad=0,
            text="<br>".join(lines),
            font=dict(family=FONT, size=9.3, color="#111")))

# column titles and x titles
for c in range(3):
    cx = (COLS_PX[c][0] + COLS_PX[c][1]) / 2
    annotations.append(dict(x=cx / W, y=1 - 11 / H, xref="paper", yref="paper", showarrow=False,
                            xanchor="center", yanchor="middle", text=COL_TITLES[c],
                            font=dict(family=FONT, size=11, color="#111")))
    annotations.append(dict(x=cx / W, y=1 - 799 / H, xref="paper", yref="paper", showarrow=False,
                            xanchor="center", yanchor="top", text=X_TITLE,
                            font=dict(family=FONT, size=11, color="#111")))
# row titles
for r in range(4):
    cy = (ROWS_PX[r][0] + ROWS_PX[r][1]) / 2
    annotations.append(dict(x=9 / W, y=1 - cy / H, xref="paper", yref="paper", showarrow=False,
                            xanchor="center", yanchor="middle", textangle=-90, text=ROW_TITLES[r],
                            font=dict(family=FONT, size=10.5, color="#111")))

layout["annotations"] = annotations
fig.update_layout(**layout)
fig.write_html("out.html")
